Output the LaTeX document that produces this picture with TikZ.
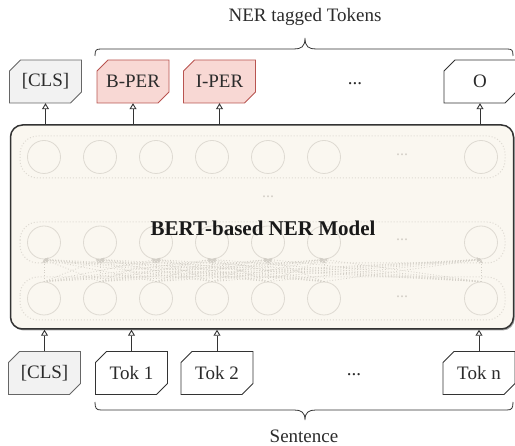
\documentclass[tikz,border=0pt]{standalone}
\usepackage{fontspec}
\setmainfont{Liberation Serif}
\usetikzlibrary{arrows.meta,shadows,calc}
\definecolor{ink}{HTML}{2B2B2B}
\definecolor{boxline}{HTML}{333333}
\definecolor{grayline}{HTML}{666666}
\definecolor{grayfill}{HTML}{F2F2F2}
\definecolor{redline}{HTML}{B85450}
\definecolor{redfill}{HTML}{F8D8D4}
\definecolor{cream}{HTML}{FAF7F0}
\definecolor{faint}{HTML}{DEDAD2}
\definecolor{faintdot}{HTML}{D3CFC7}
\newcommand{\tokbox}[4]{%
  \filldraw[#1] ($(#3)+(-36,-10.5)$) -- ($(#3)+(-25,-21.5)$) -- ($(#3)+(36,-21.5)$)
     -- ($(#3)+(36,10.5)$) -- ($(#3)+(25,21.5)$) -- ($(#3)+(-36,21.5)$) -- cycle;
  \node[txt, minimum width=72pt, minimum height=43pt, inner sep=0pt] (#2) at (#3) {#4};}
\begin{document}
\begin{tikzpicture}[x=1pt,y=-1pt,
  txt/.style={font=\fontsize{19}{22}\selectfont, text=ink},
  plainbox/.style={draw=boxline, fill=white, line width=0.9pt},
  clsbox/.style={draw=grayline, fill=grayfill, line width=0.9pt},
  perbox/.style={draw=redline, fill=redfill, line width=0.9pt},
  upar/.style={draw=boxline, line width=0.9pt, -{Triangle[open,length=6pt,width=7pt]}},
  neuron/.style={circle, draw=faint, line width=0.8pt, minimum size=33pt, inner sep=0pt},
  rowbox/.style={draw=faint, dotted, line width=1pt, rounded corners=18pt},
  attn/.style={draw=faintdot, dotted, line width=0.8pt, -{Stealth[length=4pt,width=4pt]}},
  gdots/.style={font=\fontsize{16}{18}\selectfont, text=faintdot},
  brace/.style={draw=boxline, line width=0.8pt}
]
\useasboundingbox (0,0) rectangle (515,446);

% main model box
\node[draw=boxline, line width=1.5pt, fill=cream, rounded corners=12pt,
      minimum width=503pt, minimum height=204pt,
      drop shadow={shadow xshift=1.2pt, shadow yshift=-1.5pt, fill=black!60, opacity=0.6}]
      (main) at (262,227) {};

% dotted row frames
\draw[rowbox] (20,136) rectangle (505,178);
\draw[rowbox] (20,222) rectangle (505,263);
\draw[rowbox] (20,277) rectangle (505,320);

% neurons
\foreach \k/\x in {1/44,2/100,3/156,4/212,5/268,6/324,7/481}{
  \node[neuron] (t\k) at (\x,157) {};
  \node[neuron] (m\k) at (\x,242.5) {};
  \node[neuron] (b\k) at (\x,298.5) {};
}
\node[gdots] (dt) at (402,155) {...};
\node[gdots] (dm) at (402,240) {...};
\node[gdots] (db) at (402,297) {...};
\node[gdots] (dl) at (268,197) {...};

% attention connections
\foreach \i in {1,...,7}{
  \foreach \j in {1,...,7}{
    \draw[attn] (b\i.north) -- (m\j.south);
  }
}

\node[font=\fontsize{21}{24}\selectfont\bfseries, text=black!90] (title) at (263,228) {BERT-based NER Model};

% output tokens
\tokbox{clsbox}{o1}{45.5,81.5}{[CLS]}
\tokbox{perbox}{o2}{133,81.5}{B-PER}
\tokbox{perbox}{o3}{219.5,81.5}{I-PER}
\node[txt] (odots) at (355,84) {...};
\tokbox{plainbox}{o4}{480,81.5}{O}

% input tokens
\tokbox{clsbox}{i1}{44.5,373}{[CLS]}
\tokbox{plainbox}{i2}{131.5,373}{Tok 1}
\tokbox{plainbox}{i3}{217,373}{Tok 2}
\node[txt] (idots) at (354,375) {...};
\tokbox{plainbox}{i4}{479,373}{Tok n}

% arrows
\foreach \k in {1,...,4}{
  \draw[upar] (o\k.south |- main.north) -- (o\k.south);
  \draw[upar] (i\k.north) -- (i\k.north |- main.south);
}

% braces
\draw[brace] (95,56) .. controls (95,50) and (96,49) .. (101,49) -- (294,49)
  .. controls (301,49) and (305,47) .. (305,38)
  .. controls (305,47) and (309,49) .. (316,49) -- (507,49)
  .. controls (512,49) and (513,50) .. (513,56);
\draw[brace] (95,402) .. controls (95,408) and (96,410) .. (101,410) -- (294,410)
  .. controls (301,410) and (305,412) .. (305,420)
  .. controls (305,412) and (309,410) .. (316,410) -- (507,410)
  .. controls (512,410) and (513,408) .. (513,402);

\node[txt] (toplabel) at (305,17) {NER tagged Tokens};
\node[txt] (botlabel) at (304,436) {Sentence};
\end{tikzpicture}
\end{document}
